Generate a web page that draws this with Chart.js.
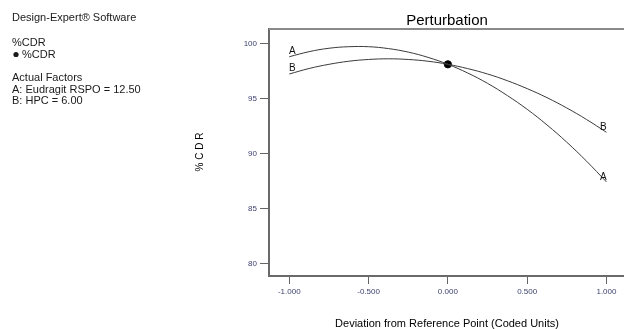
<!DOCTYPE html>
<html>
<head>
<meta charset="utf-8">
<script src="https://cdn.jsdelivr.net/npm/chart.js@4/dist/chart.umd.min.js"></script>
<style>
html,body{margin:0;padding:0;background:#fff;overflow:hidden;width:624px;height:329px;}
#wrap{width:624px;height:329px;overflow:hidden;position:relative;}
canvas{display:block;}
</style>
</head>
<body>
<div id="wrap"><canvas id="c" width="640" height="329"></canvas></div>
<script>
// Deviation from reference point (coded units)
const xValues = [-1, -0.875, -0.75, -0.625, -0.5, -0.375, -0.25, -0.125, 0, 0.125, 0.25, 0.375, 0.5, 0.625, 0.75, 0.875, 1];
// Factor A: Eudragit RSPO
const seriesA = [98.78, 99.24, 99.55, 99.69, 99.69, 99.52, 99.20, 98.72, 98.09, 97.30, 96.36, 95.25, 94.00, 92.58, 91.01, 89.28, 87.40];
// Factor B: HPC
const seriesB = [97.21, 97.71, 98.09, 98.37, 98.53, 98.59, 98.53, 98.37, 98.09, 97.70, 97.21, 96.60, 95.88, 95.06, 94.12, 93.07, 91.91];
const refPoint = [{x: 0, y: 98.09}];
const xTicks = [-1, -0.5, 0, 0.5, 1];
const yTicks = [80, 85, 90, 95, 100];
const seriesNames = ['A', 'B'];
const infoLines = ['Design-Expert® Software', '%CDR', '%CDR', 'Actual Factors', 'A: Eudragit RSPO = 12.50', 'B: HPC = 6.00'];

const toPts = arr => xValues.map((x, i) => ({x: x, y: arr[i]}));

const decor = {
  id: 'decor',
  afterDraw(chart) {
    const ctx = chart.ctx;
    const xs = chart.scales.x, ys = chart.scales.y;
    const area = chart.chartArea;
    ctx.save();
    // top frame line
    ctx.strokeStyle = '#8a8a8a';
    ctx.lineWidth = 2;
    ctx.beginPath();
    ctx.moveTo(area.left, area.top);
    ctx.lineTo(area.right + 10, area.top);
    ctx.stroke();

    // curve end labels
    ctx.fillStyle = '#111';
    ctx.font = '10px "Liberation Sans", Arial, sans-serif';
    ctx.textAlign = 'center';
    ctx.textBaseline = 'middle';
    const sets = [seriesA, seriesB];
    sets.forEach((s, i) => {
      const n = s.length - 1;
      ctx.fillText(seriesNames[i], xs.getPixelForValue(xValues[0]) + 3, ys.getPixelForValue(s[0]) - 5.5);
      ctx.fillText(seriesNames[i], xs.getPixelForValue(xValues[n]) - 3, ys.getPixelForValue(s[n]) - 5);
    });

    // title
    ctx.fillStyle = '#000';
    ctx.font = '15px "Liberation Sans", Arial, sans-serif';
    ctx.fillText('Perturbation', 447, 21);

    // x axis title
    ctx.font = '11px "Liberation Sans", Arial, sans-serif';
    ctx.fillText('Deviation from Reference Point (Coded Units)', 447, 323.5);

    // y axis title
    ctx.save();
    ctx.translate(200, 152);
    ctx.rotate(-Math.PI / 2);
    ctx.font = '10px "Liberation Sans", Arial, sans-serif';
    ctx.fillText('% C D R', 0, 0);
    ctx.restore();

    // info block
    ctx.textAlign = 'left';
    ctx.font = '11px "Liberation Sans", Arial, sans-serif';
    ctx.fillStyle = '#1a1a1a';
    ctx.fillText(infoLines[0], 12, 18);
    ctx.fillText(infoLines[1], 12, 43);
    ctx.fillText(infoLines[2], 22, 54.5);
    ctx.beginPath();
    ctx.ellipse(16, 54.5, 2.6, 2.6, 0, 0, Math.PI * 2);
    ctx.fill();
    ctx.fillText(infoLines[3], 12, 78);
    ctx.fillText(infoLines[4], 12, 89.5);
    ctx.fillText(infoLines[5], 12, 101);
    ctx.restore();
  }
};

new Chart(document.getElementById('c'), {
  type: 'scatter',
  data: {
    datasets: [
      {label: 'A', data: toPts(seriesA), showLine: true, borderColor: '#3a3a3a', borderWidth: 1, pointRadius: 0, tension: 0.4, fill: false},
      {label: 'B', data: toPts(seriesB), showLine: true, borderColor: '#3a3a3a', borderWidth: 1, pointRadius: 0, tension: 0.4, fill: false},
      {label: 'ref', data: refPoint, pointRadius: 3.6, pointBackgroundColor: '#000', pointBorderColor: '#000', showLine: false}
    ]
  },
  options: {
    responsive: false,
    devicePixelRatio: 1,
    animation: false,
    layout: {padding: {top: 29, left: 0, right: 0, bottom: 0}},
    plugins: {legend: {display: false}, tooltip: {enabled: false}, title: {display: false}},
    scales: {
      x: {
        type: 'linear',
        min: -1.128,
        max: 1.180,
        afterBuildTicks: s => { s.ticks = xTicks.map(v => ({value: v})); },
        afterFit: s => { s.height = 53; },
        grid: {drawOnChartArea: false, drawTicks: true, tickLength: 8, color: '#666', lineWidth: 1},
        border: {color: '#6a6a6a', width: 2},
        ticks: {
          padding: 3,
          color: '#3c3f6e',
          font: {size: 8, family: '"Liberation Sans", Arial, sans-serif'},
          maxRotation: 0,
          callback: v => Number(v).toFixed(3)
        }
      },
      y: {
        type: 'linear',
        min: 78.85,
        max: 101.3,
        afterBuildTicks: s => { s.ticks = yTicks.map(v => ({value: v})); },
        afterFit: s => { s.width = 269; },
        grid: {drawOnChartArea: false, drawTicks: true, tickLength: 9, color: '#666', lineWidth: 1},
        border: {color: '#6a6a6a', width: 2},
        ticks: {
          padding: 3,
          color: '#3c3f6e',
          font: {size: 8, family: '"Liberation Sans", Arial, sans-serif'},
          callback: v => String(v)
        }
      }
    }
  },
  plugins: [decor]
});
</script>
</body>
</html>
